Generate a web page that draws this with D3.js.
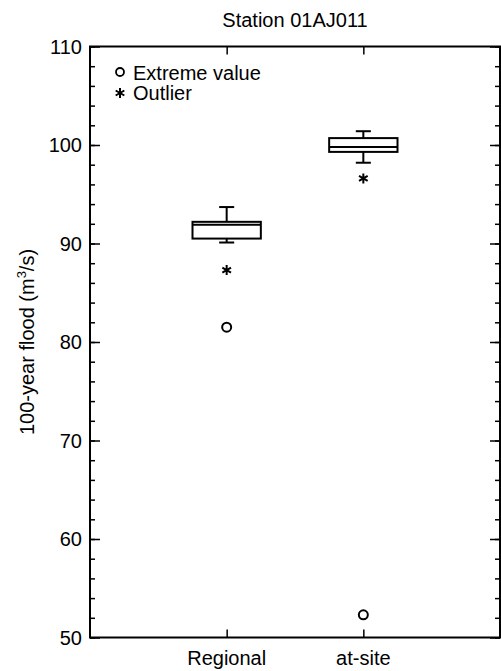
<!DOCTYPE html>
<html>
<head>
<meta charset="utf-8">
<script src="https://cdn.jsdelivr.net/npm/d3@7"></script>
<style>
  body { margin: 0; background: #fff; }
  text { font-family: "Liberation Sans", Arial, sans-serif; fill: #000; }
</style>
</head>
<body>
<div id="chart"></div>
<script>
// Box plot data (m^3/s)
var categories = ["Regional", "at-site"];
var whiskerLow = [90.1, 98.2];
var q1 = [90.5, 99.3];
var median = [91.9, 99.8];
var q3 = [92.2, 100.7];
var whiskerHigh = [93.7, 101.4];
var outliers = [87.3, 96.6];
var extremes = [81.5, 52.3];
var yTicks = [50, 60, 70, 80, 90, 100, 110];

var svgWidth = 501;
var svgHeight = 671;

var margin = { top: 46.5, right: 1, bottom: 33.5, left: 90 };
var chartWidth = svgWidth - margin.left - margin.right;
var chartHeight = svgHeight - margin.top - margin.bottom;

var svg = d3.select("#chart")
    .append("svg")
    .attr("width", svgWidth)
    .attr("height", svgHeight);

var chartGroup = svg.append("g")
    .attr("transform", `translate(${margin.left}, ${margin.top})`);

var xScale = d3.scaleLinear().domain([0, 3]).range([0, chartWidth]);
var yScale = d3.scaleLinear().domain([50, 110]).range([chartHeight, 0]);

var minorTicks = d3.range(50, 111, 2);
var catPos = categories.map((c, i) => i + 1);

// frame
chartGroup.append("rect")
    .attr("x", 0).attr("y", 0)
    .attr("width", chartWidth).attr("height", chartHeight)
    .attr("fill", "none").attr("stroke", "#000").attr("stroke-width", 2);

// left axis - ticks point inward
var leftAxis = d3.axisRight(yScale).tickValues(minorTicks)
    .tickSize(5).tickFormat("");
chartGroup.append("g").call(leftAxis);
var leftMajor = d3.axisRight(yScale).tickValues(yTicks).tickSize(10).tickFormat("");
chartGroup.append("g").call(leftMajor);

// right axis
var rightAxis = d3.axisLeft(yScale).tickValues(minorTicks).tickSize(5).tickFormat("");
chartGroup.append("g").attr("transform", `translate(${chartWidth}, 0)`).call(rightAxis);
var rightMajor = d3.axisLeft(yScale).tickValues(yTicks).tickSize(10).tickFormat("");
chartGroup.append("g").attr("transform", `translate(${chartWidth}, 0)`).call(rightMajor);

// bottom & top axis
var bottomAxis = d3.axisTop(xScale).tickValues(catPos).tickSize(8).tickFormat("");
chartGroup.append("g").attr("transform", `translate(0, ${chartHeight})`).call(bottomAxis);
var topAxis = d3.axisBottom(xScale).tickValues(catPos).tickSize(8).tickFormat("");
chartGroup.append("g").call(topAxis);

chartGroup.selectAll(".domain").remove();
chartGroup.selectAll(".tick line").attr("stroke", "#000").attr("stroke-width", 1.5);

// tick labels
chartGroup.selectAll("text.ylab")
    .data(yTicks)
    .enter()
    .append("text")
    .attr("class", "ylab")
    .attr("x", -8)
    .attr("y", d => yScale(d) + 7)
    .attr("text-anchor", "end")
    .style("font-size", "20px")
    .text(d => d);

chartGroup.selectAll("text.xlab")
    .data(categories)
    .enter()
    .append("text")
    .attr("class", "xlab")
    .attr("x", (d, i) => xScale(i + 1))
    .attr("y", chartHeight + 27)
    .attr("text-anchor", "middle")
    .style("font-size", "20px")
    .text(d => d);

// boxes
var boxHalf = 0.25;
var capHalf = 0.055;
var boxes = chartGroup.selectAll("g.box")
    .data(categories)
    .enter()
    .append("g")
    .attr("class", "box");

boxes.each(function (d, i) {
    var g = d3.select(this);
    var cx = xScale(i + 1);
    // whiskers
    g.append("line")
        .attr("x1", cx).attr("x2", cx)
        .attr("y1", yScale(whiskerHigh[i])).attr("y2", yScale(q3[i]))
        .attr("stroke", "#000").attr("stroke-width", 2);
    g.append("line")
        .attr("x1", cx).attr("x2", cx)
        .attr("y1", yScale(q1[i])).attr("y2", yScale(whiskerLow[i]))
        .attr("stroke", "#000").attr("stroke-width", 2);
    [whiskerHigh[i], whiskerLow[i]].forEach(function (v) {
        g.append("line")
            .attr("x1", xScale(i + 1 - capHalf)).attr("x2", xScale(i + 1 + capHalf))
            .attr("y1", yScale(v)).attr("y2", yScale(v))
            .attr("stroke", "#000").attr("stroke-width", 2);
    });
    // box
    g.append("rect")
        .attr("x", xScale(i + 1 - boxHalf))
        .attr("y", yScale(q3[i]))
        .attr("width", xScale(i + 1 + boxHalf) - xScale(i + 1 - boxHalf))
        .attr("height", yScale(q1[i]) - yScale(q3[i]))
        .attr("fill", "none").attr("stroke", "#000").attr("stroke-width", 2);
    g.append("line")
        .attr("x1", xScale(i + 1 - boxHalf)).attr("x2", xScale(i + 1 + boxHalf))
        .attr("y1", yScale(median[i])).attr("y2", yScale(median[i]))
        .attr("stroke", "#000").attr("stroke-width", 2);
});

var star = d3.symbol().type(d3.symbolAsterisk).size(70);

// outliers
chartGroup.selectAll("path.outlier")
    .data(outliers)
    .enter()
    .append("path")
    .attr("class", "outlier")
    .attr("d", star)
    .attr("transform", (d, i) => `translate(${xScale(i + 1)}, ${yScale(d)})`)
    .attr("fill", "none").attr("stroke", "#000").attr("stroke-width", 2);

// extremes
chartGroup.selectAll("circle.extreme")
    .data(extremes)
    .enter()
    .append("circle")
    .attr("class", "extreme")
    .attr("cx", (d, i) => xScale(i + 1))
    .attr("cy", d => yScale(d))
    .attr("r", 4.5)
    .attr("fill", "none").attr("stroke", "#000").attr("stroke-width", 2);

// legend
svg.append("circle")
    .attr("cx", 120).attr("cy", 72).attr("r", 4)
    .attr("fill", "none").attr("stroke", "#000").attr("stroke-width", 1.8);
svg.append("text")
    .attr("x", 133).attr("y", 80)
    .style("font-size", "20px")
    .text("Extreme value");
svg.append("path")
    .attr("d", star)
    .attr("transform", "translate(120, 93)")
    .attr("fill", "none").attr("stroke", "#000").attr("stroke-width", 2);
svg.append("text")
    .attr("x", 133).attr("y", 100)
    .style("font-size", "20px")
    .text("Outlier");

// title
svg.append("text")
    .attr("x", margin.left + chartWidth / 2)
    .attr("y", 27)
    .attr("text-anchor", "middle")
    .style("font-size", "20px")
    .text("Station 01AJ011");

// y axis label
var yLabel = svg.append("text")
    .attr("transform", `translate(34, ${margin.top + chartHeight / 2}) rotate(-90)`)
    .attr("text-anchor", "middle")
    .style("font-size", "20px");
yLabel.append("tspan").text("100-year flood (m");
yLabel.append("tspan").attr("dy", -8).style("font-size", "13px").text("3");
yLabel.append("tspan").attr("dy", 8).text("/s)");
</script>
</body>
</html>
